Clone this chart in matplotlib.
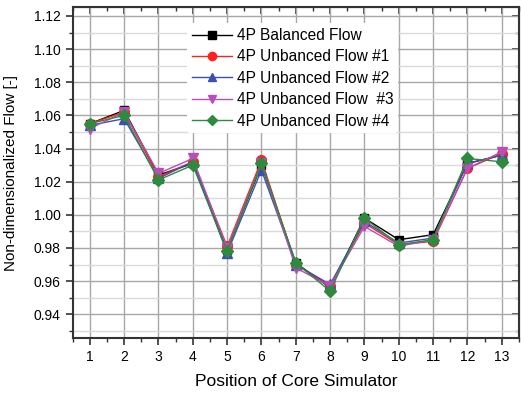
import matplotlib
matplotlib.use("Agg")
import matplotlib.pyplot as plt
from matplotlib.ticker import MultipleLocator

plt.rcParams['font.family'] = ['Liberation Sans', 'DejaVu Sans']

positions = list(range(1, 14))
balanced = [1.055, 1.063, 1.024, 1.031, 0.979, 1.030, 0.971, 0.956, 0.998, 0.985, 0.988, 1.031, 1.036]
unbal1   = [1.055, 1.062, 1.023, 1.032, 0.981, 1.033, 0.970, 0.957, 0.995, 0.982, 0.984, 1.028, 1.037]
unbal2   = [1.054, 1.058, 1.022, 1.032, 0.977, 1.027, 0.970, 0.958, 0.996, 0.983, 0.986, 1.031, 1.036]
unbal3   = [1.052, 1.062, 1.025, 1.034, 0.980, 1.031, 0.968, 0.957, 0.993, 0.981, 0.985, 1.028, 1.038]
unbal4   = [1.055, 1.060, 1.021, 1.030, 0.978, 1.031, 0.971, 0.954, 0.998, 0.982, 0.985, 1.034, 1.032]

labels = ["4P Balanced Flow", "4P Unbanced Flow #1", "4P Unbanced Flow #2",
          "4P Unbanced Flow  #3", "4P Unbanced Flow #4"]
series = [balanced, unbal1, unbal2, unbal3, unbal4]
colors = ["#000000", "#FF2020", "#3C4FB0", "#B84EB8", "#2E8B3E"]
markers = ["s", "o", "^", "v", "D"]
msizes = [6, 7, 7, 7, 6.5]

fig = plt.figure(figsize=(5.21, 3.95), dpi=100)
ax = fig.add_axes([0.1395, 0.1435, 0.8565, 0.838])

for ys, lab, c, m, ms in zip(series, labels, colors, markers, msizes):
    ax.plot(positions, ys, color=c, marker=m, markersize=ms, linewidth=1.0,
            label=lab, markeredgecolor=c, zorder=3)

ax.set_xlim(0.5, 13.5)
ax.set_ylim(0.9255, 1.1252)
ax.set_xticks(positions)
ax.xaxis.set_minor_locator(MultipleLocator(0.5))
ax.yaxis.set_major_locator(MultipleLocator(0.02))
ax.yaxis.set_minor_locator(MultipleLocator(0.01))
ax.set_yticklabels([f"{v:.2f}" for v in ax.get_yticks()])

ax.grid(True, which='major', axis='both', color='#A8A8A8', linewidth=1.0, zorder=0)
ax.grid(True, which='minor', axis='y', color='#DADADA', linewidth=1.0, zorder=0)
ax.set_axisbelow(True)

ax.tick_params(axis='both', which='major', labelsize=10, length=5, width=1.2,
               color='#333333', direction='out')
ax.tick_params(axis='both', which='minor', length=3, width=1.0,
               color='#333333', direction='out')
for sp in ax.spines.values():
    sp.set_linewidth(1.5)
    sp.set_color('#333333')

# mirrored inward ticks on top/right
axt = ax.secondary_xaxis('top')
axt.set_xticks(positions)
axt.xaxis.set_minor_locator(MultipleLocator(0.5))
axt.tick_params(which='major', direction='in', length=5, width=1.2, color='#333333', labeltop=False)
axt.tick_params(which='minor', direction='in', length=3, width=1.0, color='#333333')
axt.set_xticklabels([])
axr = ax.secondary_yaxis('right')
axr.yaxis.set_major_locator(MultipleLocator(0.02))
axr.yaxis.set_minor_locator(MultipleLocator(0.01))
axr.tick_params(which='major', direction='in', length=5, width=1.2, color='#333333', labelright=False)
axr.tick_params(which='minor', direction='in', length=3, width=1.0, color='#333333')
axr.set_yticklabels([])

ax.set_xlabel("Position of Core Simulator", fontsize=12.5, labelpad=7)
ax.set_ylabel("Non-dimensionalized Flow [-]", fontsize=11, labelpad=11.5)

leg = ax.legend(loc='upper left', bbox_to_anchor=(0.239, 0.975), fontsize=11.2,
                frameon=True, facecolor='white', edgecolor='none', framealpha=1.0,
                handlelength=2.57, handletextpad=0.32, labelspacing=0.41, borderpad=0.3,
                markerscale=0.85)

fig.savefig("out.png", dpi=100)
